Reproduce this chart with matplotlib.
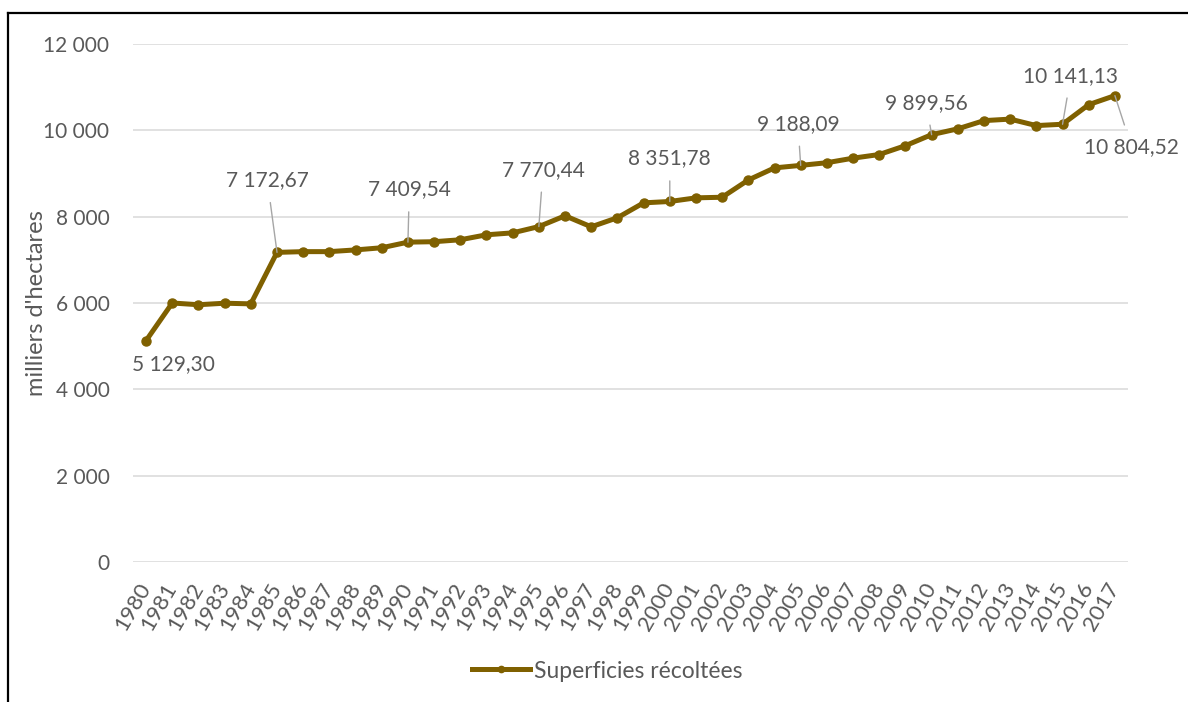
import matplotlib
matplotlib.use("Agg")
import matplotlib.pyplot as plt
from matplotlib.lines import Line2D
from matplotlib.ticker import FuncFormatter

plt.rcParams['font.family'] = ['Lato', 'DejaVu Sans']

# Données : superficies récoltées (milliers d'hectares)
annees = list(range(1980, 2018))
superficies = [5129.30, 6000, 5960, 5995, 5980, 7172.67, 7190, 7190, 7230, 7280,
               7409.54, 7420, 7465, 7580, 7625, 7770.44, 8020, 7765, 7975, 8320,
               8351.78, 8436, 8450, 8850, 9130, 9188.09, 9250, 9355, 9440, 9645,
               9899.56, 10035, 10225, 10260, 10110, 10141.13, 10595, 10804.52]

# Étiquettes affichées : année -> décalage du texte (points)
etiquettes = {1980: (20, -17), 1985: (-7, 52), 1990: (1, 38), 1995: (3, 41),
              2000: (0, 31), 2005: (-2, 30), 2010: (-4, 23), 2015: (6, 35),
              2017: (12, -37)}

couleur = "#7F6000"
gris = "#595959"

fig = plt.figure(figsize=(11.88, 7.02), dpi=100)
ax = fig.add_axes([133/1188, 1-562/702, 995/1188, 518/702])

ax.plot(annees, superficies, color=couleur, linewidth=3.6, marker="o",
        markersize=6.5, zorder=3)

def fmt(v):
    return f"{v:,.2f}".replace(",", " ").replace(".", ",")

for an, (dx, dy) in etiquettes.items():
    v = superficies[annees.index(an)]
    props = None if an == 1980 else dict(arrowstyle="-", color="#A6A6A6",
                                         lw=1.0, shrinkA=7, shrinkB=0)
    ax.annotate(fmt(v), xy=(an, v), xytext=(dx, dy), textcoords="offset points",
                ha="center", va="center", fontsize=15, color=gris,
                arrowprops=props, zorder=4)

ax.set_xlim(1979.5, 2017.5)
ax.set_ylim(0, 12000)
ax.set_yticks(range(0, 12001, 2000))
ax.yaxis.set_major_formatter(FuncFormatter(lambda v, p: f"{int(v):,}".replace(",", " ")))
ax.set_xticks(annees)
ax.set_xticklabels([str(a) for a in annees], rotation=60, ha="right",
                   va="center", rotation_mode="anchor")

ax.tick_params(axis="y", length=0, pad=17, labelsize=15, labelcolor=gris)
ax.tick_params(axis="x", length=0, pad=16, labelsize=16, labelcolor=gris)
ax.grid(axis="y", color="#D9D9D9", linewidth=1.1)
ax.set_axisbelow(True)
for s in ax.spines.values():
    s.set_visible(False)

ax.set_ylabel("milliers d'hectares", fontsize=17, color=gris)
ax.yaxis.set_label_coords(-0.0864, 0.5)

# légende (marqueur plus petit comme dans Excel)
poignee = Line2D([], [], color=couleur, linewidth=3.6, marker="o", markersize=4.5)
ax.legend([poignee], ["Superficies récoltées"], loc="center",
          bbox_to_anchor=(607/1188, 1-671/702), bbox_transform=fig.transFigure,
          frameon=False, fontsize=16.5, labelcolor=gris,
          handlelength=2.55, handletextpad=0.15)

# cadre partiel (haut et gauche)
fig.add_artist(Line2D([8/1188, 8/1188], [0, 1-13/702], color="black", lw=1.6))
fig.add_artist(Line2D([8/1188, 1], [1-13/702, 1-13/702], color="black", lw=1.6))

fig.savefig("out.png", dpi=100)
